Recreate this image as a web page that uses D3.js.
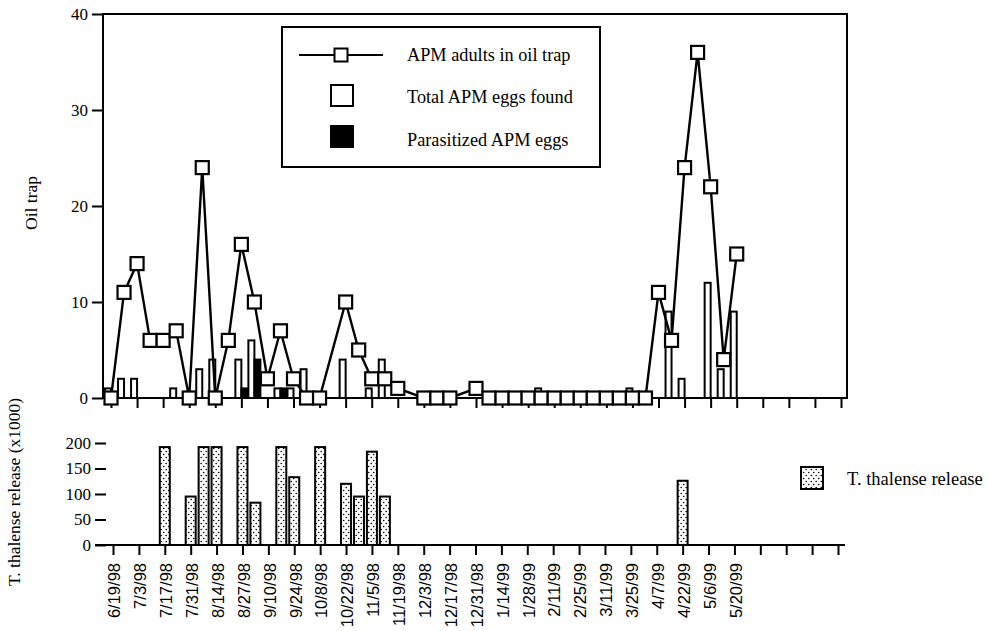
<!DOCTYPE html>
<html><head><meta charset="utf-8">
<script src="https://cdn.jsdelivr.net/npm/d3@7"></script>
<style>
html,body{margin:0;padding:0;background:#fff;}
svg{display:block;}
</style></head>
<body>
<svg id="chart" width="994" height="631"></svg>
<script>
// ---- data ----
const tickLabels = ["6/19/98","7/3/98","7/17/98","7/31/98","8/14/98","8/27/98","9/10/98","9/24/98","10/8/98","10/22/98","11/5/98","11/19/98","12/3/98","12/17/98","12/31/98","1/14/99","1/28/99","2/11/99","2/25/99","3/11/99","3/25/99","4/7/99","4/22/99","5/6/99","5/20/99"];
const tickCount = 29; // biweekly ticks (week index 0..56)

// APM adults in oil trap (week index from 6/19/98)
const trapWeeks  = [0,1,2,3,4,5,6,7,8,9,10,11,12,13,14,15,16,18,19,20,21,22,24,25,26,28,29,30,31,32,33,34,35,36,37,38,39,40,41,42,43,44,45,46,47,48];
const trapValues = [0,11,14,6,6,7,0,24,0,6,16,10,2,7,2,0,0,10,5,2,2,1,0,0,0,1,0,0,0,0,0,0,0,0,0,0,0,0,0,11,6,24,36,22,4,15];

// APM eggs
const eggWeeks        = [0,1,2,5,7,8,10,11,13,14,15,18,20,21,33,40,43,44,46,47,48];
const eggTotal        = [1,2,2,1,3,4,4,6,1,1,3,4,1,4,1,1,9,2,12,3,9];
const eggParasitized  = [0,0,0,0,0,0,1,4,1,0,0,0,0,0,0,0,0,0,0,0,0];

// T. thalense release (x1000)
const releaseWeeks  = [4,6,7,8,10,11,13,14,16,18,19,20,21,44];
const releaseValues = [192,95,192,192,192,83,192,133,192,120,95,183,95,126];

const topTicks = [0,10,20,30,40];
const botTicks = [0,50,100,150,200];

// ---- layout ----
const svg = d3.select("#chart");
const serif = "'Liberation Serif','Times New Roman',serif";
const sans = "'Liberation Sans',Arial,sans-serif";

const xTop = d3.scaleLinear().domain([0,56]).range([111,841]);
const xBot = d3.scaleLinear().domain([0,56]).range([113,838]);
const yTop = d3.scaleLinear().domain([0,40]).range([398,14]);
const yBot = d3.scaleLinear().domain([0,200]).range([545,443]);
const weekTicks = d3.range(tickCount).map(i=>i*2);

// pattern
const defs = svg.append("defs");
const pat = defs.append("pattern").attr("id","dots").attr("patternUnits","userSpaceOnUse")
  .attr("width",5).attr("height",6);
pat.append("rect").attr("width",5).attr("height",6).attr("fill","#fff");
pat.append("circle").attr("cx",1.2).attr("cy",1.5).attr("r",0.8).attr("fill","#000");
pat.append("circle").attr("cx",3.7).attr("cy",4.5).attr("r",0.8).attr("fill","#000");

// ---- top panel ----
const gTop = svg.append("g");
gTop.append("path").attr("d",`M103,${yTop(0)}V${yTop(40)}H847V${yTop(0)}H103`)
  .attr("fill","none").attr("stroke","#000").attr("stroke-width",2);

const axL = gTop.append("g").attr("transform","translate(103,0)")
  .call(d3.axisLeft(yTop).tickValues(topTicks).tickSize(11).tickPadding(4));
axL.select(".domain").remove();
axL.selectAll("line").attr("stroke-width",2);
axL.selectAll("text").style("font-family",serif).style("font-size","17px");

const axBT = gTop.append("g").attr("transform",`translate(0,${yTop(0)})`)
  .call(d3.axisBottom(xTop).tickValues(weekTicks).tickSize(10).tickFormat(""));
axBT.select(".domain").remove();
axBT.selectAll("line").attr("stroke-width",2);

// egg bars
const eggs = eggWeeks.map((w,i)=>({w,t:eggTotal[i],p:eggParasitized[i]}));
const bw = 6;
gTop.selectAll(".egg").data(eggs.filter(d=>d.t>0)).enter().append("rect")
  .attr("x",d=>xTop(d.w)-bw).attr("width",bw)
  .attr("y",d=>yTop(d.t)).attr("height",d=>yTop(0)-yTop(d.t))
  .attr("fill","#fff").attr("stroke","#000").attr("stroke-width",2);
gTop.selectAll(".par").data(eggs.filter(d=>d.p>0)).enter().append("rect")
  .attr("x",d=>xTop(d.w)).attr("width",bw)
  .attr("y",d=>yTop(d.p)).attr("height",d=>yTop(0)-yTop(d.p))
  .attr("fill","#000").attr("stroke","#000").attr("stroke-width",2);

// line + markers
const trap = trapWeeks.map((w,i)=>({w,v:trapValues[i]}));
gTop.append("path").datum(trap)
  .attr("d",d3.line().x(d=>xTop(d.w)).y(d=>yTop(d.v)))
  .attr("fill","none").attr("stroke","#000").attr("stroke-width",2.4);
const ms = 13;
gTop.selectAll(".mk").data(trap).enter().append("rect")
  .attr("x",d=>xTop(d.w)-ms/2).attr("y",d=>yTop(d.v)-ms/2)
  .attr("width",ms).attr("height",ms)
  .attr("fill","#fff").attr("stroke","#000").attr("stroke-width",2.2);

// legend
const lg = gTop.append("g");
lg.append("rect").attr("x",282).attr("y",27).attr("width",318).attr("height",140)
  .attr("fill","#fff").attr("stroke","#000").attr("stroke-width",2);
lg.append("line").attr("x1",299).attr("x2",383).attr("y1",55).attr("y2",55)
  .attr("stroke","#000").attr("stroke-width",2);
lg.append("rect").attr("x",341-ms/2).attr("y",55-ms/2).attr("width",ms).attr("height",ms)
  .attr("fill","#fff").attr("stroke","#000").attr("stroke-width",2);
lg.append("rect").attr("x",331).attr("y",85).attr("width",22).attr("height",21)
  .attr("fill","#fff").attr("stroke","#000").attr("stroke-width",2);
lg.append("rect").attr("x",331).attr("y",126).attr("width",22).attr("height",21)
  .attr("fill","#000").attr("stroke","#000").attr("stroke-width",2);
const legTexts = ["APM adults in oil trap","Total APM eggs found","Parasitized APM eggs"];
const legY = [61,103,146];
lg.selectAll(".lt").data(legTexts).enter().append("text")
  .attr("x",407).attr("y",(d,i)=>legY[i]).text(d=>d)
  .style("font-family",serif).style("font-size","18.3px");

svg.append("text").attr("transform","translate(37,203) rotate(-90)")
  .attr("text-anchor","middle").text("Oil trap")
  .style("font-family",serif).style("font-size","17.5px");

// ---- bottom panel ----
const gBot = svg.append("g");
gBot.append("line").attr("x1",95).attr("x2",845).attr("y1",yBot(0)).attr("y2",yBot(0))
  .attr("stroke","#000").attr("stroke-width",2);
const axL2 = gBot.append("g").attr("transform","translate(106,0)")
  .call(d3.axisLeft(yBot).tickValues(botTicks).tickSize(11).tickPadding(4));
axL2.select(".domain").remove();
axL2.selectAll("line").attr("stroke-width",2);
axL2.selectAll("text").style("font-family",serif).style("font-size","17px");

const axB2 = gBot.append("g").attr("transform",`translate(0,${yBot(0)})`)
  .call(d3.axisBottom(xBot).tickValues(weekTicks).tickSize(10)
    .tickFormat((d,i)=> i < tickLabels.length ? tickLabels[i] : ""));
axB2.select(".domain").remove();
axB2.selectAll("line").attr("stroke-width",2);
axB2.selectAll("text")
  .attr("transform","rotate(-90)").attr("x",-18).attr("y",1).attr("dy","0.35em")
  .style("text-anchor","end").style("font-family",sans).style("font-size","16.5px");

const rel = releaseWeeks.map((w,i)=>({w,v:releaseValues[i]}));
const rw = 10;
gBot.selectAll(".rel").data(rel).enter().append("rect")
  .attr("x",d=>xBot(d.w)-rw/2).attr("width",rw)
  .attr("y",d=>yBot(d.v)).attr("height",d=>yBot(0)-yBot(d.v))
  .attr("fill","url(#dots)").attr("stroke","#000").attr("stroke-width",2);

gBot.append("rect").attr("x",801).attr("y",467).attr("width",22).attr("height",22)
  .attr("fill","url(#dots)").attr("stroke","#000").attr("stroke-width",2);
gBot.append("text").attr("x",847).attr("y",485).text("T. thalense release")
  .style("font-family",serif).style("font-size","18.5px");

svg.append("text").attr("transform","translate(20,492) rotate(-90)")
  .attr("text-anchor","middle").text("T. thalense release (x1000)")
  .style("font-family",serif).style("font-size","17.5px");
</script>
</body></html>
